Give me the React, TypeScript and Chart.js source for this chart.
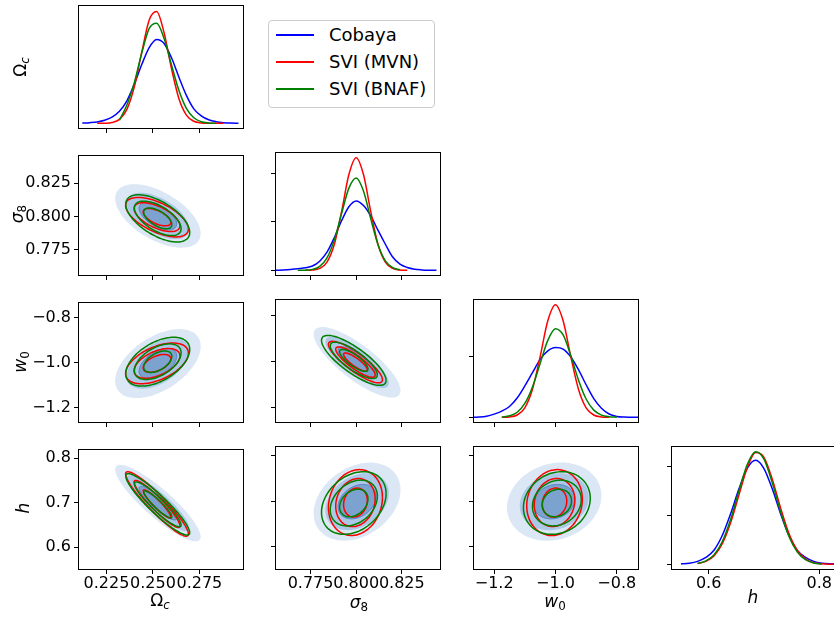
import React, { useEffect, useRef } from 'react';
import { Chart, registerables } from 'chart.js';

Chart.register(...registerables);

// ---------------- 1D marginal densities ----------------
const omegaGrid = [0.212, 0.216, 0.22, 0.224, 0.228, 0.232, 0.236, 0.24, 0.244, 0.248, 0.252, 0.256, 0.26, 0.264, 0.268, 0.272, 0.276, 0.28, 0.284, 0.288, 0.292, 0.296];
const omegaCobaya = [0.15, 0.35, 0.7, 1.5, 3.0, 5.8, 10.8, 18.8, 28.2, 36.3, 40.2, 38.3, 31.4, 22.1, 13.4, 6.96, 3.6, 1.7, 0.8, 0.35, 0.15, 0.07];
const omegaMVN = [null, null, 0.01, 0.07, 0.41, 1.93, 6.73, 17.5, 34.1, 49.5, 53.6, 43.4, 26.2, 11.8, 3.98, 1.0, 0.19, 0.03, 0.0, 0.0, null, null];
const omegaBNAF = [null, null, null, null, null, 1.5, 8.75, 19.5, 33.7, 45.5, 48.0, 40.7, 28.0, 15.7, 7.17, 2.66, 0.8, 0.2, 0.04, null, null, null];

const sigma8Grid = [0.756, 0.76, 0.764, 0.768, 0.772, 0.776, 0.78, 0.784, 0.788, 0.792, 0.796, 0.8, 0.804, 0.808, 0.812, 0.816, 0.82, 0.824, 0.828, 0.832, 0.836, 0.84, 0.844];
const sigma8Cobaya = [0.0, 0.15, 0.35, 0.65, 1.1, 1.8, 3.8, 7.5, 13.5, 20.5, 26.3, 28.7, 26.8, 22.5, 16.5, 10.8, 5.5, 2.6, 1.2, 0.5, 0.2, 0.05, 0.0];
const sigma8MVN = [null, null, null, null, 0.02, 0.13, 0.79, 3.42, 10.7, 24.3, 39.6, 46.6, 39.6, 24.3, 10.7, 3.42, 0.79, 0.13, 0.02, null, null, null, null];
const sigma8BNAF = [null, null, null, 0.01, 0.08, 0.41, 1.65, 5.17, 12.5, 23.5, 34.0, 38.2, 32.8, 21.3, 10.5, 3.94, 1.12, 0.25, null, null, null, null, null];

const w0Grid = [-1.275, -1.25, -1.225, -1.2, -1.175, -1.15, -1.125, -1.1, -1.075, -1.05, -1.025, -1.0, -0.975, -0.95, -0.925, -0.9, -0.875, -0.85, -0.825, -0.8, -0.775, -0.75, -0.725];
const w0Cobaya = [0.0, 0.03, 0.1, 0.27, 0.52, 0.9, 1.6, 2.6, 3.7, 4.8, 5.5, 5.78, 5.65, 5.0, 3.95, 2.7, 1.55, 0.75, 0.28, 0.08, 0.02, 0.0, 0.0];
const w0MVN = [null, null, null, null, 0.005, 0.036, 0.197, 0.79, 2.33, 5.03, 8.0, 9.33, 8.0, 5.03, 2.33, 0.79, 0.197, 0.036, 0.005, null, null, null, null];
const w0BNAF = [null, null, null, null, 0.03, 0.126, 0.42, 1.15, 2.52, 4.46, 6.37, 7.34, 6.82, 5.12, 3.1, 1.52, 0.6, 0.19, 0.05, 0.01, null, null, null];

const hGrid = [0.535, 0.55, 0.565, 0.58, 0.595, 0.61, 0.625, 0.64, 0.655, 0.67, 0.685, 0.7, 0.715, 0.73, 0.745, 0.76, 0.775, 0.79, 0.805, 0.82, 0.835];
const hCobaya = [null, 0.05, 0.12, 0.3, 0.7, 1.46, 2.98, 5.19, 7.71, 9.78, 10.58, 9.75, 7.68, 5.16, 2.96, 1.45, 0.7, 0.3, 0.12, 0.05, 0.02];
const hMVN = [null, null, null, 0.087, 0.3, 0.88, 2.13, 4.27, 7.11, 9.86, 11.37, 10.89, 8.67, 5.74, 3.16, 1.44, 0.55, 0.17, 0.05, 0.01, 0.0];
const hBNAF = [null, null, null, 0.1, 0.35, 0.99, 2.35, 4.61, 7.51, 10.18, 11.45, 10.7, 8.3, 5.35, 2.86, 1.27, 0.47, 0.14, 0.04, null, null];

// ---------------- 2D contour summaries (order: Ω_c, σ8, w0, h) ----------------
// centre and half-extent of the outermost contour of each method
const cobayaMean = [0.2527, 0.8005, -1.004, 0.699];
const cobayaHalf = [0.023, 0.0238, 0.154, 0.086];
const mvnMean = [0.2522, 0.7996, -1.003, 0.697];
const mvnHalf = [0.0169, 0.0148, 0.0907, 0.0725];
const bnafMean = [0.2526, 0.7987, -0.9955, 0.696];
const bnafHalf = [0.0172, 0.0177, 0.109, 0.069];
// correlations for pairs (Ω,σ8) (Ω,w0) (σ8,w0) (Ω,h) (σ8,h) (w0,h)
const pairOrder = [[0, 1], [0, 2], [1, 2], [0, 3], [1, 3], [2, 3]];
const cobayaCorr = [-0.55, 0.5, -0.8, -0.88, 0.3, 0.15];
const mvnCorr = [-0.6, 0.5, -0.85, -0.93, 0.15, 0.1];
const bnafCorr = [-0.6, 0.5, -0.8, -0.92, 0.3, 0.15];
// contour levels relative to the outermost one
const contourLevels = [0.44, 0.73, 1.0];

// ---------------- axes ----------------
const omegaRange = [0.2097, 0.299];
const sigma8Range = [0.7555, 0.8465];
const w0Range = [-1.269, -0.7275];
const hRange = [0.5485, 0.8215];
const hDiagRange = [0.532, 0.832];

const omegaTicks = [0.225, 0.25, 0.275];
const omegaTickLabels = ['0.225', '0.250', '0.275'];
const sigma8Ticks = [0.775, 0.8, 0.825];
const sigma8TickLabels = ['0.775', '0.800', '0.825'];
const w0Ticks = [-1.2, -1.0, -0.8];
const w0TickLabels = ['\u22121.2', '\u22121.0', '\u22120.8'];
const hTicks = [0.6, 0.7, 0.8];
const hTickLabels = ['0.6', '0.7', '0.8'];
const hDiagTicks = [0.6, 0.8];
const hDiagTickLabels = ['0.6', '0.8'];

const densRanges = [[-2.7, 56.7], [-2.33, 48.93], [-0.467, 9.8], [-0.574, 12.04]];
const densTicks = [[], [0, 20, 40], [0, 5], [0, 5, 10]];

const legendLabels = ['Cobaya', 'SVI (MVN)', 'SVI (BNAF)'];

// ---------------- styling ----------------
const BLUE = '#0000ff';
const RED = '#ff0000';
const GREEN = '#008000';
const FILLS = ['#dbe7f4', '#abc8e6', '#7ca2cf'];
const FONT = "'DejaVu Sans', sans-serif";
const TICK_SIZE = 16;

const colLeft = [78, 275, 473, 671];
const rowTop = [5, 152, 299, 446];
const PW = 166;
const PH = 124;
const Y_AXIS_W = 70;
const X_AXIS_H = 30;
const PAD_T = 10;
const PAD_R = 10;

const ranges = [omegaRange, sigma8Range, w0Range, hRange];
const axisTicks = [omegaTicks, sigma8Ticks, w0Ticks, hTicks];
const axisTickLabels = [omegaTickLabels, sigma8TickLabels, w0TickLabels, hTickLabels];
const diagGrids = [omegaGrid, sigma8Grid, w0Grid, hGrid];
const diagCurves = [
  [omegaCobaya, omegaMVN, omegaBNAF],
  [sigma8Cobaya, sigma8MVN, sigma8BNAF],
  [w0Cobaya, w0MVN, w0BNAF],
  [hCobaya, hMVN, hBNAF],
];

function corrFor(arr: number[], i: number, j: number) {
  const k = pairOrder.findIndex((p) => (p[0] === i && p[1] === j) || (p[0] === j && p[1] === i));
  return arr[k];
}

function ellipse(mean: number[], half: number[], corr: number[], xi: number, yi: number, level: number) {
  const rho = corrFor(corr, xi, yi);
  const r = Math.sqrt(1 - rho * rho);
  const pts: { x: number; y: number }[] = [];
  const n = 90;
  for (let i = 0; i <= n; i++) {
    const t = (i / n) * Math.PI * 2;
    const u = Math.cos(t);
    const v = Math.sin(t);
    pts.push({ x: mean[xi] + level * half[xi] * u, y: mean[yi] + level * half[yi] * (rho * u + r * v) });
  }
  return pts;
}

function curve(grid: number[], vals: (number | null)[]) {
  const pts: { x: number; y: number }[] = [];
  grid.forEach((x, i) => {
    const v = vals[i];
    if (v !== null && v !== undefined) pts.push({ x, y: v });
  });
  return pts;
}

function makeAxis(range: number[], ticks: number[], labels: string[] | null, isX: boolean) {
  return {
    type: 'linear',
    position: isX ? 'bottom' : 'left',
    min: range[0],
    max: range[1],
    afterBuildTicks: (scale: any) => {
      scale.ticks = (ticks.length ? ticks : [range[0]]).map((v) => ({ value: v }));
    },
    afterFit: (scale: any) => {
      if (isX) scale.height = X_AXIS_H;
      else scale.width = Y_AXIS_W;
    },
    ticks: {
      display: !!labels,
      autoSkip: false,
      maxRotation: 0,
      minRotation: 0,
      padding: isX ? 0 : 3,
      color: '#000',
      font: { family: FONT, size: TICK_SIZE },
      callback: (_v: any, i: number) => (labels ? labels[i] : ''),
    },
    grid: {
      display: ticks.length > 0,
      drawOnChartArea: false,
      drawTicks: true,
      tickLength: 4,
      color: '#000',
      tickColor: '#000',
      lineWidth: 1,
    },
    border: { display: false },
  };
}

const framePlugin = {
  id: 'frame',
  afterDraw(chart: any) {
    const { ctx, chartArea: a } = chart;
    ctx.save();
    ctx.strokeStyle = '#000';
    ctx.lineWidth = 1;
    ctx.strokeRect(Math.round(a.left) + 0.5, Math.round(a.top) + 0.5, Math.round(a.right - a.left) - 1, Math.round(a.bottom - a.top) - 1);
    ctx.restore();
  },
};

function baseConfig(datasets: any[], x: any, y: any) {
  return {
    type: 'line',
    data: { datasets },
    options: {
      animation: false,
      responsive: false,
      maintainAspectRatio: false,
      events: [],
      layout: { autoPadding: false, padding: { left: 0, top: PAD_T, right: PAD_R, bottom: 0 } },
      plugins: { legend: { display: false }, tooltip: { enabled: false } },
      elements: { point: { radius: 0, hoverRadius: 0 } },
      scales: { x, y },
    },
    plugins: [framePlugin],
  };
}

function diagConfig(i: number) {
  const grid = diagGrids[i];
  const [cb, mvn, bnaf] = diagCurves[i];
  const mk = (vals: (number | null)[], color: string, order: number) => ({
    data: curve(grid, vals),
    borderColor: color,
    borderWidth: 1.5,
    fill: false,
    cubicInterpolationMode: 'monotone',
    pointRadius: 0,
    order,
  });
  const datasets = [mk(cb, BLUE, 3), mk(mvn, RED, 2), mk(bnaf, GREEN, 1)];
  const isLast = i === 3;
  const x = makeAxis(isLast ? hDiagRange : ranges[i], isLast ? hDiagTicks : axisTicks[i], isLast ? hDiagTickLabels : null, true);
  const y = makeAxis(densRanges[i], densTicks[i], null, false);
  return baseConfig(datasets, x, y);
}

function pairConfig(row: number, col: number) {
  const xi = col;
  const yi = row;
  const datasets: any[] = [];
  [2, 1, 0].forEach((li, n) => {
    datasets.push({
      data: ellipse(cobayaMean, cobayaHalf, cobayaCorr, xi, yi, contourLevels[li]),
      borderColor: n === 2 ? '#4a82c3' : 'rgba(0,0,0,0)',
      borderWidth: n === 2 ? 1 : 0,
      backgroundColor: FILLS[n],
      fill: 'shape',
      tension: 0.2,
      pointRadius: 0,
      order: 20 - n,
    });
  });
  contourLevels.forEach((lv) => {
    datasets.push({
      data: ellipse(mvnMean, mvnHalf, mvnCorr, xi, yi, lv),
      borderColor: RED,
      borderWidth: 1.5,
      fill: false,
      tension: 0.2,
      pointRadius: 0,
      order: 5,
    });
  });
  contourLevels.forEach((lv) => {
    datasets.push({
      data: ellipse(bnafMean, bnafHalf, bnafCorr, xi, yi, lv),
      borderColor: GREEN,
      borderWidth: 1.5,
      fill: false,
      tension: 0.2,
      pointRadius: 0,
      order: 4,
    });
  });
  const x = makeAxis(ranges[col], axisTicks[col], row === 3 ? axisTickLabels[col] : null, true);
  const y = makeAxis(ranges[row], axisTicks[row], col === 0 ? axisTickLabels[row] : null, false);
  return baseConfig(datasets, x, y);
}

function Panel({ row, col }: { row: number; col: number }) {
  const ref = useRef<HTMLCanvasElement>(null);
  const w = Y_AXIS_W + PW + PAD_R;
  const h = PAD_T + PH + X_AXIS_H;
  useEffect(() => {
    const cfg: any = row === col ? diagConfig(row) : pairConfig(row, col);
    const chart = new Chart(ref.current as HTMLCanvasElement, cfg);
    return () => chart.destroy();
  }, [row, col]);
  return (
    <canvas
      ref={ref}
      width={w}
      height={h}
      style={{ position: 'absolute', left: colLeft[col] - Y_AXIS_W, top: rowTop[row] - PAD_T, width: w, height: h }}
    />
  );
}

function MathText({ base, sub, baseItalic, subItalic, size }: { base: string; sub?: string; baseItalic: boolean; subItalic?: boolean; size: number }) {
  return (
    <span style={{ fontFamily: FONT, fontSize: size, whiteSpace: 'nowrap', lineHeight: 1 }}>
      <span style={{ fontStyle: baseItalic ? 'italic' : 'normal' }}>{base}</span>
      {sub ? (
        <span style={{ fontStyle: subItalic ? 'italic' : 'normal', fontSize: '0.7em', position: 'relative', top: '0.25em' }}>{sub}</span>
      ) : null}
    </span>
  );
}

const LABEL_SIZE = 17;
const labelDefs = [
  { base: '\u03a9', sub: 'c', bi: false, si: true },
  { base: '\u03c3', sub: '8', bi: true, si: false },
  { base: 'w', sub: '0', bi: true, si: false },
  { base: 'h', sub: '', bi: true, si: false },
];
const xLabelPos = [
  { cx: 160, base: 606 },
  { cx: 359, base: 608 },
  { cx: 555, base: 607 },
  { cx: 753, base: 603 },
];
const yLabelPos = [
  { cx: 20, cy: 67 },
  { cx: 16.5, cy: 214 },
  { cx: 19.5, cy: 362 },
  { cx: 22.5, cy: 508 },
];

export default function App() {
  const cells: { row: number; col: number }[] = [];
  for (let r = 0; r < 4; r++) for (let c = 0; c <= r; c++) cells.push({ row: r, col: c });
  const legendColors = [BLUE, RED, GREEN];
  const legendRowY = [35, 62, 89];
  return (
    <div style={{ position: 'fixed', left: 0, top: 0, width: 834, height: 618, overflow: 'hidden', background: '#fff' }}>
      {cells.map((c) => (
        <Panel key={`${c.row}-${c.col}`} row={c.row} col={c.col} />
      ))}
      {labelDefs.map((d, i) => (
        <div
          key={`xl${i}`}
          style={{ position: 'absolute', left: xLabelPos[i].cx, top: xLabelPos[i].base - 0.847 * LABEL_SIZE, transform: 'translateX(-50%)', lineHeight: 1 }}
        >
          <MathText base={d.base} sub={d.sub} baseItalic={d.bi} subItalic={d.si} size={LABEL_SIZE} />
        </div>
      ))}
      {labelDefs.map((d, i) => (
        <div
          key={`yl${i}`}
          style={{ position: 'absolute', left: yLabelPos[i].cx, top: yLabelPos[i].cy, transform: 'translate(-50%,-50%) rotate(-90deg)', lineHeight: 1 }}
        >
          <MathText base={d.base} sub={d.sub} baseItalic={d.bi} subItalic={d.si} size={LABEL_SIZE} />
        </div>
      ))}
      <div
        style={{
          position: 'absolute',
          left: 268,
          top: 20,
          width: 167,
          height: 88,
          boxSizing: 'border-box',
          border: '1px solid #cccccc',
          borderRadius: 4,
          background: '#fff',
        }}
      >
        {legendLabels.map((lab, i) => (
          <div key={lab} style={{ position: 'absolute', left: 0, top: legendRowY[i] - 21 - 10, height: 20, display: 'flex', alignItems: 'center' }}>
            <div style={{ marginLeft: 7, width: 38, height: 2, background: legendColors[i] }} />
            <span style={{ marginLeft: 15, fontFamily: FONT, fontSize: 18, lineHeight: '20px', whiteSpace: 'nowrap', color: '#000' }}>{lab}</span>
          </div>
        ))}
      </div>
    </div>
  );
}
